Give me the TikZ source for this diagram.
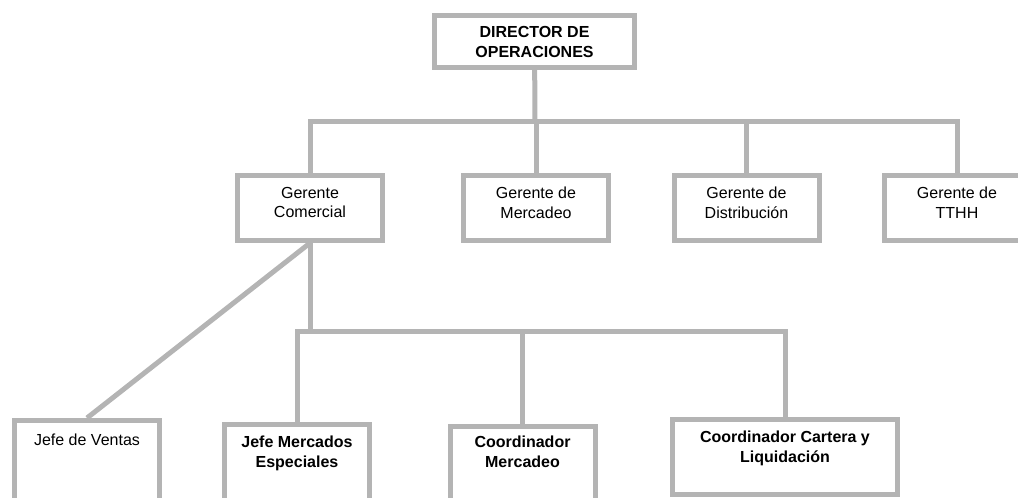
\documentclass[tikz,border=0pt]{standalone}
\usepackage{fontspec}
\setmainfont{Liberation Sans}
\usetikzlibrary{positioning}
\definecolor{linegray}{RGB}{180,180,180}
\tikzset{
  box/.style={draw=linegray, line width=5pt, minimum width=145pt, minimum height=65pt, inner sep=0pt, align=center, font=\fontsize{16}{19.5}\selectfont},
  conn/.style={draw=linegray, line width=5pt},
  txt/.style={inner sep=0pt, align=center, font=\fontsize{16}{19.5}\selectfont},
  btxt/.style={txt, font=\bfseries\fontsize{16}{19.5}\selectfont},
}
\begin{document}
\begin{tikzpicture}[x=1pt,y=-1pt]
\useasboundingbox (0,0) rectangle (1018,498);
\clip (0,0) rectangle (1018,498);
% director
\node[box, minimum width=200pt, minimum height=52pt, font=\bfseries\fontsize{16}{20}\selectfont] (dir) at (534.5,41.5) {DIRECTOR DE\\OPERACIONES};
% gerentes
\node[box, anchor=north] (gcom) at (310,173) {};
\node[box, anchor=north] (gmer) at (536,173) {};
\node[box, anchor=north] (gdis) at (746.5,173) {};
\node[box, anchor=north] (gth) at (957,173) {};
\node[txt, below=14pt of gcom.north] (tgcom) {Gerente\\Comercial};
\node[txt, below=14pt of gmer.north] (tgmer) {Gerente de\\Mercadeo};
\node[txt, below=14pt of gdis.north] (tgdis) {Gerente de\\Distribución};
\node[txt, below=14pt of gth.north] (tgth) {Gerente de\\TTHH};
% jefes y coordinadores
\node[box, minimum height=100pt, anchor=north] (jven) at (87,418) {};
\node[box, minimum height=100pt, anchor=north] (jme) at (297,422) {};
\node[box, minimum height=100pt, anchor=north] (cmer) at (522.5,424) {};
\node[box, minimum width=225pt, minimum height=75pt, anchor=north] (ccl) at (785,417) {};
\node[txt, below=16pt of jven.north] (tjven) {Jefe de Ventas};
\node[btxt, below=14pt of jme.north] (tjme) {Jefe Mercados\\Especiales};
\node[btxt, below=12pt of cmer.north] (tcmer) {Coordinador\\Mercadeo};
\node[btxt, below=14pt of ccl.north] (tccl) {Coordinador Cartera y\\Liquidación};
% lineas
\coordinate (bar1) at (535,121);
\coordinate (bar2) at (310,331);
\draw[conn] (dir) -- (bar1);
\draw[conn] (gcom.north) -- (gcom.north |- bar1) -| (gth.north);
\draw[conn] (gmer.north) -- (gmer.north |- bar1);
\draw[conn] (gdis.north) -- (gdis.north |- bar1);
\draw[conn] (gcom.south) -- (bar2);
\draw[conn] (jme.north) -- (jme.north |- bar2) -| (ccl.north);
\draw[conn] (cmer.north) -- (cmer.north |- bar2);
\draw[conn] (gcom.south) -- (jven.north);
\end{tikzpicture}
\end{document}
